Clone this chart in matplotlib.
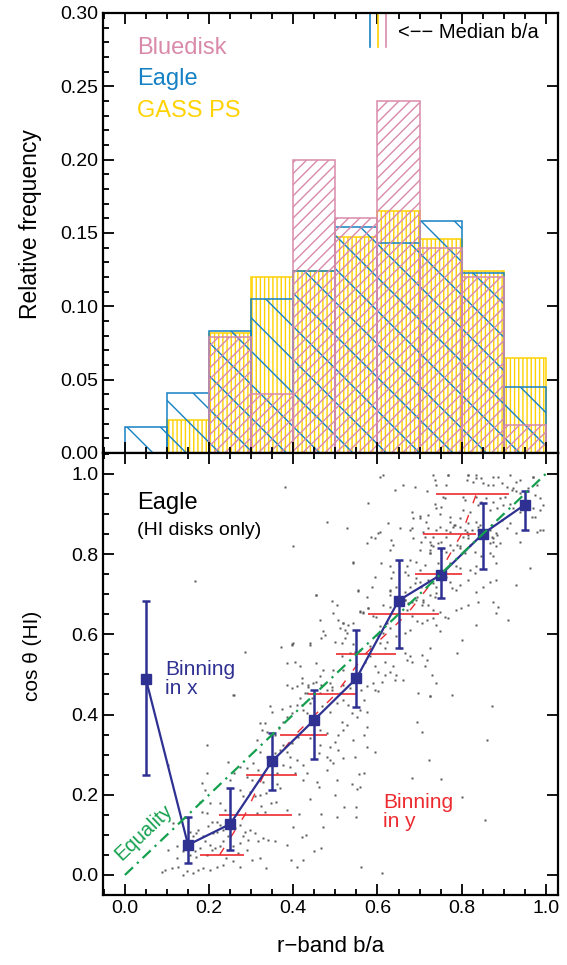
import numpy as np
import matplotlib.pyplot as plt
from matplotlib.ticker import MultipleLocator

plt.rcParams['font.family'] = ['Liberation Sans', 'DejaVu Sans']
plt.rcParams['hatch.linewidth'] = 1.0

# --- Oberes Panel: Histogramm der r-band b/a (10 Bins zu je 0.1)
bin_edges = np.arange(0.0, 1.0, 0.1)
bluedisk_frac = [0.0, 0.0, 0.079, 0.040, 0.200, 0.160, 0.240, 0.140, 0.120, 0.019]
eagle_frac = [0.018, 0.041, 0.083, 0.105, 0.124, 0.154, 0.143, 0.158, 0.123, 0.045]
gass_frac = [0.0, 0.0225, 0.082, 0.120, 0.124, 0.147, 0.165, 0.146, 0.124, 0.065]

# Mediane b/a (Eagle, GASS PS, Bluedisk)
median_ba = [0.582, 0.602, 0.620]

# --- Unteres Panel: Binning in x (Mittelwert und Streuung von cos theta)
binx_ba = [0.05, 0.15, 0.25, 0.35, 0.45, 0.55, 0.65, 0.75, 0.85, 0.95]
binx_cos = [0.488, 0.075, 0.127, 0.284, 0.387, 0.490, 0.684, 0.748, 0.850, 0.923]
binx_lo = [0.249, 0.029, 0.062, 0.212, 0.289, 0.418, 0.565, 0.690, 0.763, 0.860]
binx_hi = [0.682, 0.145, 0.216, 0.355, 0.460, 0.611, 0.786, 0.816, 0.928, 0.956]

# Binning in y
biny_cos = [0.05, 0.15, 0.25, 0.35, 0.45, 0.55, 0.65, 0.75, 0.85, 0.95]
biny_ba = [0.225, 0.285, 0.330, 0.405, 0.500, 0.570, 0.670, 0.745, 0.800, 0.835]
biny_lo = [0.178, 0.223, 0.287, 0.368, 0.435, 0.501, 0.578, 0.690, 0.707, 0.739]
biny_hi = [0.283, 0.396, 0.410, 0.481, 0.549, 0.645, 0.746, 0.801, 0.835, 0.913]

# Einzelne Eagle-Galaxien (b/a, cos theta)
eagle_points = [
    (0.194, 0.255), (0.182, 0.229), (0.190, 0.212), (0.178, 0.183), (0.202, 0.179), (0.182, 0.158),
    (0.194, 0.154), (0.226, 0.179), (0.237, 0.162), (0.206, 0.133), (0.218, 0.133), (0.198, 0.121),
    (0.226, 0.125), (0.174, 0.113), (0.170, 0.104), (0.162, 0.096), (0.186, 0.096), (0.210, 0.104),
    (0.218, 0.108), (0.234, 0.113), (0.190, 0.084), (0.202, 0.075), (0.214, 0.067), (0.178, 0.067),
    (0.166, 0.059), (0.139, 0.059), (0.123, 0.071), (0.123, 0.042), (0.155, 0.050), (0.170, 0.046),
    (0.194, 0.050), (0.206, 0.063), (0.226, 0.071), (0.234, 0.084), (0.273, 0.212), (0.281, 0.196),
    (0.297, 0.208), (0.309, 0.196), (0.320, 0.200), (0.336, 0.204), (0.324, 0.171), (0.313, 0.154),
    (0.332, 0.158), (0.348, 0.179), (0.360, 0.183), (0.368, 0.216), (0.384, 0.162), (0.273, 0.125),
    (0.285, 0.108), (0.297, 0.113), (0.309, 0.104), (0.281, 0.096), (0.293, 0.088), (0.273, 0.079),
    (0.269, 0.054), (0.289, 0.063), (0.316, 0.084), (0.328, 0.092), (0.340, 0.088), (0.356, 0.084),
    (0.384, 0.075), (0.301, 0.038), (0.320, 0.042), (0.336, 0.017), (0.273, 0.021), (0.257, 0.034),
    (0.241, 0.042), (0.234, 0.025), (0.218, 0.021), (0.202, 0.013), (0.186, 0.017), (0.174, 0.013),
    (0.162, 0.005), (0.147, 0.009), (0.139, 0.001), (0.127, 0.021), (0.111, 0.017), (0.095, 0.013),
    (0.103, 0.063), (0.115, 0.129), (0.155, 0.108), (0.245, 0.096), (0.257, 0.071), (0.261, 0.117),
    (0.258, 0.449), (0.384, 0.474), (0.396, 0.465), (0.420, 0.478), (0.436, 0.469), (0.432, 0.453),
    (0.416, 0.440), (0.408, 0.424), (0.392, 0.420), (0.373, 0.415), (0.345, 0.420), (0.349, 0.407),
    (0.321, 0.378), (0.333, 0.378), (0.325, 0.361), (0.337, 0.357), (0.313, 0.336), (0.357, 0.349),
    (0.365, 0.366), (0.376, 0.382), (0.384, 0.395), (0.396, 0.403), (0.424, 0.411), (0.432, 0.403),
    (0.440, 0.428), (0.444, 0.440), (0.420, 0.424), (0.464, 0.453), (0.479, 0.461), (0.491, 0.469),
    (0.468, 0.420), (0.487, 0.407), (0.503, 0.428), (0.519, 0.436), (0.531, 0.424), (0.539, 0.403),
    (0.515, 0.382), (0.527, 0.374), (0.551, 0.395), (0.559, 0.411), (0.567, 0.436), (0.574, 0.407),
    (0.507, 0.349), (0.519, 0.361), (0.499, 0.332), (0.487, 0.320), (0.464, 0.324), (0.460, 0.303),
    (0.479, 0.295), (0.507, 0.311), (0.495, 0.278), (0.519, 0.291), (0.547, 0.295), (0.567, 0.253),
    (0.559, 0.220), (0.539, 0.228), (0.503, 0.237), (0.479, 0.262), (0.456, 0.233), (0.432, 0.253),
    (0.424, 0.274), (0.408, 0.287), (0.392, 0.295), (0.384, 0.307), (0.396, 0.328), (0.412, 0.345),
    (0.376, 0.324), (0.369, 0.311), (0.357, 0.303), (0.337, 0.295), (0.321, 0.307), (0.305, 0.278),
    (0.289, 0.266), (0.274, 0.270), (0.258, 0.253), (0.250, 0.237), (0.246, 0.282), (0.289, 0.245),
    (0.301, 0.237), (0.317, 0.262), (0.345, 0.274), (0.361, 0.253), (0.376, 0.274), (0.392, 0.270),
    (0.404, 0.253), (0.424, 0.237), (0.361, 0.228), (0.329, 0.233), (0.567, 0.349), (0.574, 0.370),
    (0.574, 0.320), (0.543, 0.336), (0.440, 0.341), (0.464, 0.361), (0.479, 0.353),
    (0.455, 0.699), (0.491, 0.682), (0.503, 0.674), (0.495, 0.653), (0.558, 0.657), (0.566, 0.654),
    (0.578, 0.665), (0.590, 0.645), (0.630, 0.699), (0.630, 0.707), (0.665, 0.686), (0.673, 0.678),
    (0.693, 0.694), (0.709, 0.686), (0.725, 0.699), (0.737, 0.694), (0.740, 0.703), (0.705, 0.674),
    (0.669, 0.661), (0.681, 0.645), (0.693, 0.632), (0.705, 0.628), (0.717, 0.636), (0.733, 0.640),
    (0.740, 0.624), (0.677, 0.611), (0.665, 0.603), (0.645, 0.595), (0.630, 0.615), (0.622, 0.628),
    (0.606, 0.620), (0.614, 0.603), (0.598, 0.599), (0.463, 0.636), (0.471, 0.607), (0.475, 0.599),
    (0.467, 0.591), (0.507, 0.636), (0.519, 0.628), (0.511, 0.615), (0.523, 0.611), (0.531, 0.624),
    (0.542, 0.628), (0.499, 0.582), (0.515, 0.578), (0.523, 0.591), (0.440, 0.578), (0.400, 0.578),
    (0.396, 0.574), (0.515, 0.545), (0.535, 0.553), (0.546, 0.557), (0.558, 0.561), (0.582, 0.570),
    (0.606, 0.578), (0.618, 0.566), (0.622, 0.582), (0.582, 0.545), (0.570, 0.532), (0.594, 0.520),
    (0.602, 0.507), (0.618, 0.499), (0.630, 0.507), (0.645, 0.499), (0.638, 0.520), (0.618, 0.532),
    (0.665, 0.553), (0.677, 0.545), (0.669, 0.536), (0.705, 0.549), (0.717, 0.536), (0.713, 0.520),
    (0.729, 0.499), (0.740, 0.478), (0.661, 0.487), (0.641, 0.487), (0.610, 0.482), (0.590, 0.478),
    (0.574, 0.470), (0.594, 0.462), (0.602, 0.458), (0.562, 0.462), (0.535, 0.466), (0.519, 0.474),
    (0.511, 0.453), (0.491, 0.462), (0.467, 0.474), (0.455, 0.482), (0.436, 0.474), (0.420, 0.491),
    (0.408, 0.470), (0.428, 0.453), (0.471, 0.512), (0.463, 0.495), (0.519, 0.512), (0.539, 0.499),
    (0.554, 0.503), (0.404, 0.532), (0.653, 0.566), (0.681, 0.532), (0.725, 0.445), (0.697, 0.453),
    (0.625, 0.877), (0.653, 0.864), (0.677, 0.860), (0.716, 0.881), (0.748, 0.868), (0.764, 0.860),
    (0.772, 0.881), (0.783, 0.873), (0.795, 0.868), (0.807, 0.860), (0.815, 0.848), (0.839, 0.868),
    (0.867, 0.860), (0.882, 0.852), (0.875, 0.839), (0.867, 0.827), (0.882, 0.819), (0.585, 0.843),
    (0.593, 0.839), (0.601, 0.852), (0.605, 0.856), (0.574, 0.827), (0.633, 0.835), (0.637, 0.823),
    (0.629, 0.810), (0.684, 0.839), (0.704, 0.831), (0.712, 0.843), (0.724, 0.831), (0.724, 0.810),
    (0.732, 0.819), (0.744, 0.827), (0.752, 0.810), (0.772, 0.823), (0.780, 0.810), (0.795, 0.819),
    (0.807, 0.802), (0.819, 0.823), (0.831, 0.806), (0.847, 0.794), (0.867, 0.802), (0.875, 0.794),
    (0.882, 0.777), (0.835, 0.769), (0.819, 0.760), (0.795, 0.765), (0.787, 0.769), (0.772, 0.777),
    (0.744, 0.777), (0.724, 0.802), (0.712, 0.773), (0.700, 0.760), (0.692, 0.781), (0.677, 0.785),
    (0.669, 0.769), (0.665, 0.756), (0.673, 0.748), (0.629, 0.769), (0.637, 0.756), (0.633, 0.740),
    (0.542, 0.781), (0.542, 0.777), (0.593, 0.744), (0.609, 0.777), (0.692, 0.740), (0.700, 0.731),
    (0.704, 0.719), (0.688, 0.727), (0.677, 0.719), (0.665, 0.706), (0.720, 0.735), (0.732, 0.727),
    (0.740, 0.719), (0.764, 0.744), (0.772, 0.731), (0.776, 0.715), (0.787, 0.710), (0.795, 0.723),
    (0.815, 0.735), (0.831, 0.752), (0.851, 0.719), (0.867, 0.731), (0.882, 0.735), (0.835, 0.706),
    (0.645, 0.719), (0.629, 0.710), (0.653, 0.694), (0.665, 0.686), (0.681, 0.681), (0.692, 0.686),
    (0.708, 0.681), (0.720, 0.673), (0.732, 0.661), (0.748, 0.656), (0.760, 0.644), (0.768, 0.640),
    (0.787, 0.661), (0.799, 0.665), (0.815, 0.673), (0.839, 0.681), (0.875, 0.681), (0.882, 0.652),
    (0.558, 0.656), (0.566, 0.656), (0.578, 0.665), (0.597, 0.644), (0.554, 0.710), (0.613, 0.673),
    (0.629, 0.669),
    (0.768, 0.997), (0.816, 0.997), (0.835, 0.997), (0.847, 0.989), (0.887, 0.993), (0.915, 0.997),
    (0.938, 0.985), (0.930, 0.980), (0.970, 0.993), (0.812, 0.985), (0.827, 0.980), (0.851, 0.976),
    (0.863, 0.972), (0.875, 0.972), (0.895, 0.976), (0.907, 0.968), (0.923, 0.964), (0.736, 0.985),
    (0.740, 0.972), (0.764, 0.972), (0.689, 0.968), (0.717, 0.956), (0.756, 0.943), (0.760, 0.939),
    (0.804, 0.943), (0.808, 0.935), (0.835, 0.943), (0.847, 0.931), (0.859, 0.939), (0.875, 0.931),
    (0.891, 0.939), (0.903, 0.943), (0.919, 0.960), (0.930, 0.956), (0.938, 0.951), (0.958, 0.964),
    (0.978, 0.972), (0.974, 0.947), (0.986, 0.939), (0.839, 0.922), (0.867, 0.910), (0.883, 0.914),
    (0.899, 0.922), (0.915, 0.926), (0.923, 0.914), (0.938, 0.906), (0.970, 0.914), (0.966, 0.893),
    (0.974, 0.893), (0.986, 0.910), (0.994, 0.922), (0.736, 0.926), (0.740, 0.914), (0.752, 0.918),
    (0.748, 0.901), (0.721, 0.897), (0.701, 0.889), (0.685, 0.889), (0.804, 0.910), (0.820, 0.906),
    (0.796, 0.889), (0.772, 0.893), (0.784, 0.872), (0.780, 0.868), (0.816, 0.877), (0.835, 0.881),
    (0.843, 0.872), (0.839, 0.860), (0.824, 0.860), (0.812, 0.856), (0.804, 0.843), (0.816, 0.839),
    (0.721, 0.864), (0.740, 0.860), (0.709, 0.856), (0.732, 0.843), (0.728, 0.823), (0.752, 0.831),
    (0.764, 0.843), (0.772, 0.856), (0.788, 0.823), (0.796, 0.814), (0.764, 0.806), (0.859, 0.839),
    (0.871, 0.843), (0.883, 0.847), (0.875, 0.831), (0.891, 0.827), (0.907, 0.864), (0.915, 0.877),
    (0.895, 0.885), (0.871, 0.872), (0.930, 0.852), (0.938, 0.831), (0.978, 0.856), (0.994, 0.860),
    (0.681, 0.864), (0.725, 0.802), (0.701, 0.810),
    (0.372, 0.569), (0.396, 0.577), (0.439, 0.573), (0.384, 0.528), (0.416, 0.520), (0.455, 0.528),
    (0.447, 0.478), (0.487, 0.478), (0.495, 0.511), (0.519, 0.628), (0.527, 0.603), (0.542, 0.577),
    (0.574, 0.694), (0.586, 0.719), (0.578, 0.927), (0.613, 0.997), (0.605, 0.993), (0.641, 0.960),
    (0.661, 0.973), (0.681, 0.906), (0.701, 0.894), (0.732, 0.997), (0.768, 0.997), (0.815, 0.997),
    (0.835, 0.989), (0.875, 0.993), (0.970, 0.993), (0.986, 0.860), (0.962, 0.765), (0.930, 0.723),
    (0.887, 0.669), (0.910, 0.636), (0.835, 0.623), (0.800, 0.586), (0.788, 0.553), (0.748, 0.607),
    (0.724, 0.565), (0.380, 0.966), (0.479, 0.881), (0.527, 0.865), (0.400, 0.819), (0.166, 0.733),
    (0.285, 0.557), (0.455, 0.697), (0.554, 0.707),
    (0.724, 0.445), (0.776, 0.449), (0.871, 0.420), (0.693, 0.382), (0.705, 0.357), (0.860, 0.337),
    (0.594, 0.307), (0.722, 0.287), (0.681, 0.243), (0.752, 0.239), (0.802, 0.195), (0.555, 0.252),
    (0.552, 0.215), (0.550, 0.170), (0.550, 0.145), (0.503, 0.145), (0.467, 0.153), (0.423, 0.037),
    (0.395, 0.037), (0.562, 0.021), (0.610, 0.005), (0.855, 0.137), (0.487, 0.287), (0.257, 0.449),
    (0.194, 0.324), (0.102, 0.274), (0.087, 0.008), (0.467, 0.067), (0.420, 0.095), (0.414, 0.153),
    (0.440, 0.190), (0.460, 0.220), (0.470, 0.120), (0.430, 0.100), (0.500, 0.200), (0.520, 0.170),
    (0.450, 0.060), (0.410, 0.020), (0.400, 0.120),
]
sample_ba = np.array([p[0] for p in eagle_points])
sample_cos = np.array([p[1] for p in eagle_points])

pink = '#D98AAA'
blue = '#1681C4'
yellow = '#FFD200'
navy = '#2E3192'
red = '#EC2A2F'
green = '#14A04E'

fig = plt.figure(figsize=(5.67, 9.65), dpi=100)
ax1 = fig.add_axes([0.1817, 0.5306, 0.8025, 0.4560])
ax2 = fig.add_axes([0.1817, 0.0725, 0.8025, 0.4581])

# Histogramme (gelb, blau, rosa)
for frac, col, hatch in [(gass_frac, yellow, '||||'), (eagle_frac, blue, '\\'),
                         (bluedisk_frac, pink, '///')]:
    ax1.bar(bin_edges, frac, width=0.1, align='edge', fill=False,
            edgecolor=col, hatch=hatch, linewidth=1.1)

# Mediane
for m, col in zip(median_ba, [blue, yellow, pink]):
    ax1.plot([m, m], [0.277, 0.30], color=col, lw=1.2)
ax1.text(0.648, 0.2865, '<\u2212\u2212 Median b/a', fontsize=14.5, va='center', ha='left')

ax1.text(0.028, 0.276, 'Bluedisk', color=pink, fontsize=17, va='center')
ax1.text(0.028, 0.255, 'Eagle', color=blue, fontsize=17, va='center')
ax1.text(0.028, 0.233, 'GASS PS', color=yellow, fontsize=17, va='center')

ax1.set_xlim(-0.052, 1.029)
ax1.set_ylim(0.0, 0.30)
ax1.set_ylabel('Relative frequency', fontsize=16.5)
ax1.yaxis.set_label_coords(-0.134, 0.52)
ax1.yaxis.set_major_locator(MultipleLocator(0.05))
ax1.yaxis.set_minor_locator(MultipleLocator(0.01))
ax1.yaxis.set_major_formatter(lambda v, p: f'{v:.2f}')
ax1.tick_params(labelbottom=False)

# Unteres Panel
ax2.plot(sample_ba, sample_cos, 's', ms=1.7, color='#5a5a5a', mec='none', zorder=1)
ax2.hlines(biny_cos, biny_lo, biny_hi, color=red, lw=1.2, zorder=2)
ax2.plot(biny_ba, biny_cos, color=red, lw=1.0, ls=(0, (6, 9)), zorder=2)
ax2.errorbar(binx_ba, binx_cos,
             yerr=[np.array(binx_cos) - np.array(binx_lo), np.array(binx_hi) - np.array(binx_cos)],
             fmt='-s', color=navy, ms=6.5, lw=1.6, elinewidth=1.8, capsize=3, capthick=1.8, zorder=3)
ax2.plot([0, 1], [0, 1], color=green, lw=1.6, ls=(0, (5, 2.5, 1, 2.5)), zorder=4)

ax2.text(0.028, 0.928, 'Eagle', fontsize=17, va='center')
ax2.text(0.028, 0.858, '(HI disks only)', fontsize=14, va='center')
ax2.text(0.095, 0.489, 'Binning\nin x', color=navy, fontsize=15, va='center', linespacing=1.0)
ax2.text(0.613, 0.157, 'Binning\nin y', color=red, fontsize=15, va='center', linespacing=1.0)
ax2.text(0.044, 0.107, 'Equality', color=green, fontsize=14.5, rotation=43.6,
         ha='center', va='center')

ax2.set_xlim(-0.052, 1.029)
ax2.set_ylim(-0.05, 1.052)
ax2.set_xlabel('r\u2212band b/a', fontsize=16)
ax2.xaxis.set_label_coords(0.5, -0.093)
ax2.set_ylabel('cos \u03b8 (HI)', fontsize=15)
ax2.yaxis.set_label_coords(-0.134, 0.54)
ax2.yaxis.set_major_locator(MultipleLocator(0.2))
ax2.yaxis.set_minor_locator(MultipleLocator(0.05))
ax2.yaxis.set_major_formatter(lambda v, p: f'{v:.1f}')
ax2.xaxis.set_major_formatter(lambda v, p: f'{v:.1f}')

for ax in (ax1, ax2):
    ax.xaxis.set_major_locator(MultipleLocator(0.2))
    ax.xaxis.set_minor_locator(MultipleLocator(0.05))
    ax.tick_params(which='both', direction='in', top=True, right=True, width=1.3, labelsize=14)
    ax.tick_params(which='major', length=8)
    ax.tick_params(which='minor', length=4.5, right=False)
    for s in ax.spines.values():
        s.set_linewidth(1.6)

fig.savefig('out.png', dpi=100)
